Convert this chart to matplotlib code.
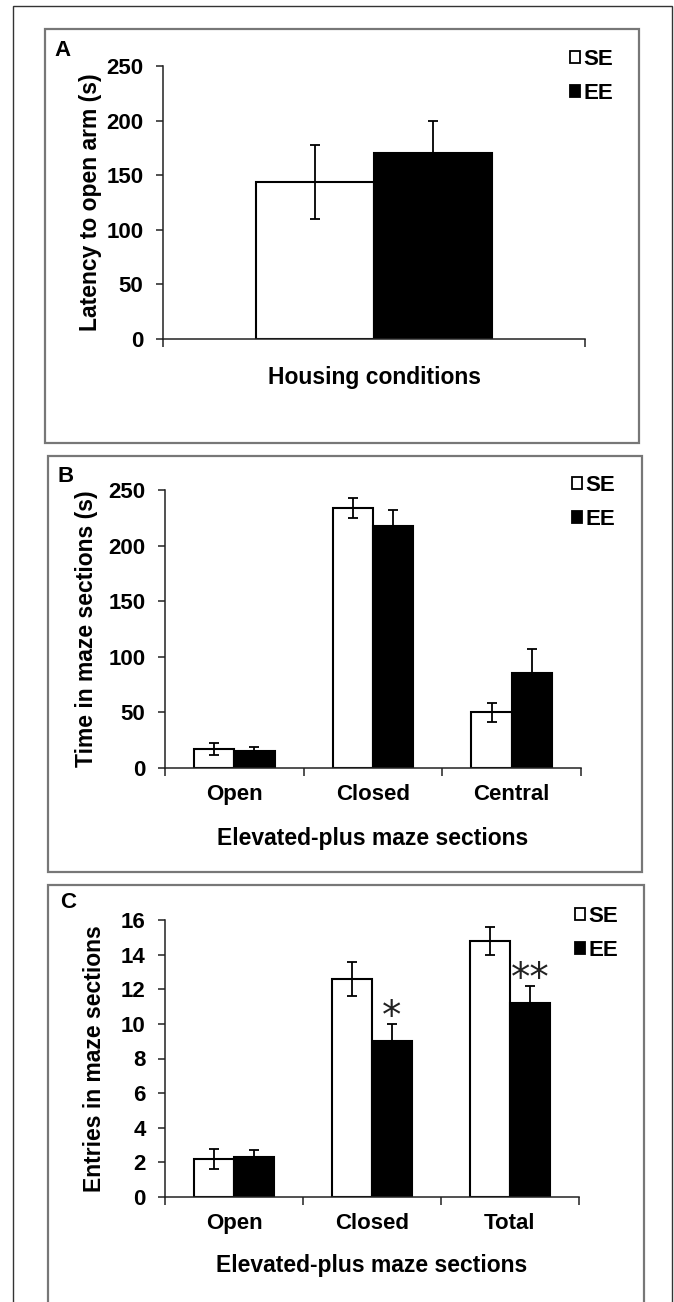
import numpy as np
import matplotlib.pyplot as plt
from matplotlib.patches import Rectangle, Patch

plt.rcParams['font.family'] = ['Liberation Sans', 'DejaVu Sans']
plt.rcParams['font.weight'] = 'bold'

W, H = 674, 1302

# Données
groupes = ['SE', 'EE']

latence_se = [144]
latence_se_err = [34]
latence_ee = [170]
latence_ee_err = [30]

sections_b = ['Open', 'Closed', 'Central']
temps_se = [17, 234, 50]
temps_se_err = [5.5, 9, 8.5]
temps_ee = [15, 218, 85]
temps_ee_err = [4, 14, 22]

sections_c = ['Open', 'Closed', 'Total']
entrees_se = [2.2, 12.6, 14.8]
entrees_se_err = [0.6, 1.0, 0.8]
entrees_ee = [2.3, 9.0, 11.2]
entrees_ee_err = [0.4, 1.0, 1.0]
etoiles_c = ['', '*', '**']

TAILLE = 16


def rect_px(x0, y0, x1, y1):
    # boîte en pixels (origine en haut à gauche) -> fraction de figure
    return [x0 / W, 1 - y1 / H, (x1 - x0) / W, (y1 - y0) / H]


def cadre(fig, x0, y0, x1, y1, couleur, lw):
    l, b, w, h = rect_px(x0, y0, x1, y1)
    fig.patches.append(Rectangle((l, b), w, h, transform=fig.transFigure,
                                 fill=False, edgecolor=couleur, linewidth=lw))


def tracer_barres(ax, cats, se, se_err, ee, ee_err, largeur):
    x = np.arange(len(se))
    ax.bar(x - largeur / 2, se, largeur, color='white', edgecolor='black', linewidth=1.5, zorder=2)
    ax.bar(x + largeur / 2, ee, largeur, color='black', edgecolor='black', linewidth=1.5, zorder=2)
    ax.errorbar(x - largeur / 2, se, yerr=se_err, fmt='none', ecolor='black',
                elinewidth=1.3, capsize=3.8, capthick=1.3, zorder=3)
    ax.errorbar(x + largeur / 2, ee, yerr=ee_err, fmt='none', ecolor='black',
                elinewidth=1.3, capsize=3.8, capthick=1.3, zorder=3)
    ax.set_xlim(-0.5, len(se) - 0.5)
    ax.set_xticks(np.arange(len(se) + 1) - 0.5)
    ax.set_xticklabels([])
    ax.tick_params(axis='x', which='major', direction='out', length=5.5, width=1.1, color='#222222')
    if cats:
        ax.set_xticks(x, minor=True)
        ax.set_xticklabels(cats, minor=True, fontsize=TAILLE, fontweight='bold')
        ax.tick_params(axis='x', which='minor', length=0, pad=11.5)
    for s in ['top', 'right']:
        ax.spines[s].set_visible(False)
    for s in ['left', 'bottom']:
        ax.spines[s].set_linewidth(1.1)
        ax.spines[s].set_color('#222222')
    ax.tick_params(axis='y', direction='out', length=5, width=1.1, color='#222222',
                   labelsize=TAILLE, pad=9)
    for t in ax.get_yticklabels():
        t.set_fontweight('bold')
    return x


def legende(ax, x_px, y_px):
    poignees = [Patch(facecolor='white', edgecolor='black', linewidth=1.3),
                Patch(facecolor='black', edgecolor='black', linewidth=1.3)]
    ax.legend(poignees, groupes, loc='upper left',
              bbox_to_anchor=(x_px / W, 1 - y_px / H), bbox_transform=ax.figure.transFigure,
              frameon=False, handlelength=0.45, handleheight=0.45,
              handletextpad=0.15, labelspacing=0.57, borderpad=0, borderaxespad=0,
              prop={'weight': 'bold', 'size': TAILLE})


fig = plt.figure(figsize=(W / 100, H / 100), dpi=100)

# cadres
cadre(fig, 13, 6, 672, 1320, '#333333', 1.0)
cadre(fig, 45, 29, 639, 443, '#777777', 1.6)
cadre(fig, 48, 456, 642, 872, '#777777', 1.6)
cadre(fig, 48, 885, 644, 1320, '#777777', 1.6)

# Panneau A
axA = fig.add_axes(rect_px(163, 66, 585, 339))
tracer_barres(axA, None, latence_se, latence_se_err, latence_ee, latence_ee_err, 0.28)
axA.set_ylim(0, 250)
axA.set_yticks(np.arange(0, 251, 50))
axA.set_ylabel('Latency to open arm (s)', fontsize=16.5, fontweight='bold')
axA.yaxis.set_label_coords(-0.145, 0.5)
axA.set_xlabel('Housing conditions', fontsize=16.5, fontweight='bold', va='top')
axA.xaxis.set_label_coords(0.5, -0.099)
legende(axA, 570, 49)
fig.text(63 / W, 1 - 50 / H, 'A', fontsize=16, fontweight='bold', ha='center', va='center')

# Panneau B
axB = fig.add_axes(rect_px(165, 490, 581, 768))
tracer_barres(axB, sections_b, temps_se, temps_se_err, temps_ee, temps_ee_err, 0.29)
axB.set_ylim(0, 250)
axB.set_yticks(np.arange(0, 251, 50))
axB.set_ylabel('Time in maze sections (s)', fontsize=16.5, fontweight='bold')
axB.yaxis.set_label_coords(-0.162, 0.5)
axB.set_xlabel('Elevated-plus maze sections', fontsize=16.5, fontweight='bold', va='top')
axB.xaxis.set_label_coords(0.5, -0.214)
legende(axB, 572, 475)
fig.text(66 / W, 1 - 477 / H, 'B', fontsize=16, fontweight='bold', ha='center', va='center')

# Panneau C
axC = fig.add_axes(rect_px(165, 920, 579, 1197))
xc = tracer_barres(axC, sections_c, entrees_se, entrees_se_err, entrees_ee, entrees_ee_err, 0.29)
axC.set_ylim(0, 16)
axC.set_yticks(np.arange(0, 17, 2))
axC.set_ylabel('Entries in maze sections', fontsize=16.5, fontweight='bold')
axC.yaxis.set_label_coords(-0.143, 0.5)
axC.set_xlabel('Elevated-plus maze sections', fontsize=16.5, fontweight='bold', va='top')
axC.xaxis.set_label_coords(0.5, -0.207)
legende(axC, 575, 906)
fig.text(68 / W, 1 - 903 / H, 'C', fontsize=16, fontweight='bold', ha='center', va='center')
for xi, v, e, s in zip(xc, entrees_ee, entrees_ee_err, etoiles_c):
    if s:
        axC.annotate(s, (xi + 0.145, v + e), xytext=(0, -3), textcoords='offset points',
                     ha='center', va='baseline', fontsize=28, fontweight='normal',
                     family='DejaVu Sans', color='#222222')

fig.savefig('out.png', dpi=100)
